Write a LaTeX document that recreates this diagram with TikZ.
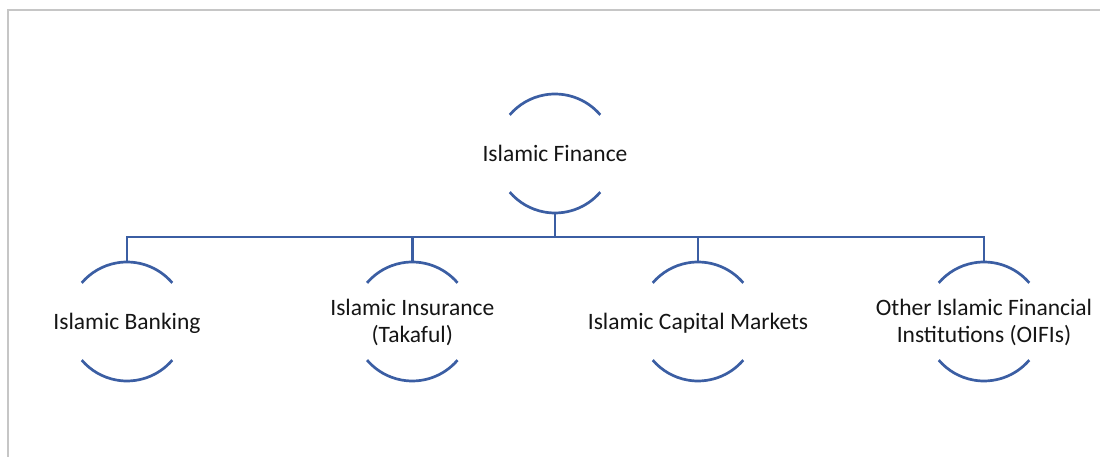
\documentclass[tikz,border=0pt]{standalone}
\usepackage{fontspec}
\setmainfont{Carlito}
\definecolor{linkblue}{HTML}{3B5EA3}
\definecolor{framegray}{HTML}{C6C6C6}
\definecolor{txt}{HTML}{151515}
\begin{document}
\begin{tikzpicture}[x=1pt,y=1pt,
  hub/.style={circle,minimum size=119pt,inner sep=0pt,draw=none},
  lbl/.style={font=\fontsize{23.5}{27}\selectfont,text=txt,align=center,inner sep=0pt,anchor=base},
  arcline/.style={draw=linkblue,line width=2.7pt},
  conn/.style={draw=linkblue,line width=2.7pt},
  frame/.style={draw=framegray,line width=1.6pt}]
\useasboundingbox (0,0) rectangle (1100,457);
% frame
\coordinate (ftop) at (1100,447);
\coordinate (fcorner) at (8,447);
\coordinate (fbot) at (8,0);
\draw[frame] (ftop) -- (fcorner) -- (fbot);
% hubs
\node[hub] (fin) at (555,303.5) {};
\node[hub] (bank) at (127,135.5) {};
\node[hub] (ins) at (412.3,135.5) {};
\node[hub] (cap) at (698,135.5) {};
\node[hub] (oifi) at (984,135.5) {};
% arcs
\foreach \n in {fin,bank,ins,cap,oifi}{
  \draw[arcline] ([shift={(40.5:59.5)}]\n.center) arc[start angle=40.5,end angle=139.5,radius=59.5];
  \draw[arcline] ([shift={(-40.5:59.5)}]\n.center) arc[start angle=-40.5,end angle=-139.5,radius=59.5];
}
% labels
\node[lbl] (tfin) at ([yshift=-7.55]fin.center) {Islamic Finance};
\node[lbl] (tbank) at ([yshift=-7.55]bank.center) {Islamic Banking};
\node[lbl] (tins) at ([yshift=-21.05]ins.center) {Islamic Insurance\\(Takaful)};
\node[lbl] (tcap) at ([yshift=-7.55]cap.center) {Islamic Capital Markets};
\node[lbl] (toifi) at ([yshift=-21.05]oifi.center) {Other Islamic Financial\\Institutions (OIFIs)};
% connectors
\coordinate (bar) at (555,220);
\draw[conn] (fin.south) -- (fin.south |- bar);
\draw[conn] (bank.north) -- (bank.north |- bar) -- (oifi.north |- bar) -- (oifi.north);
\draw[conn] (ins.north) -- (ins.north |- bar);
\draw[conn] (cap.north) -- (cap.north |- bar);
\end{tikzpicture}
\end{document}
